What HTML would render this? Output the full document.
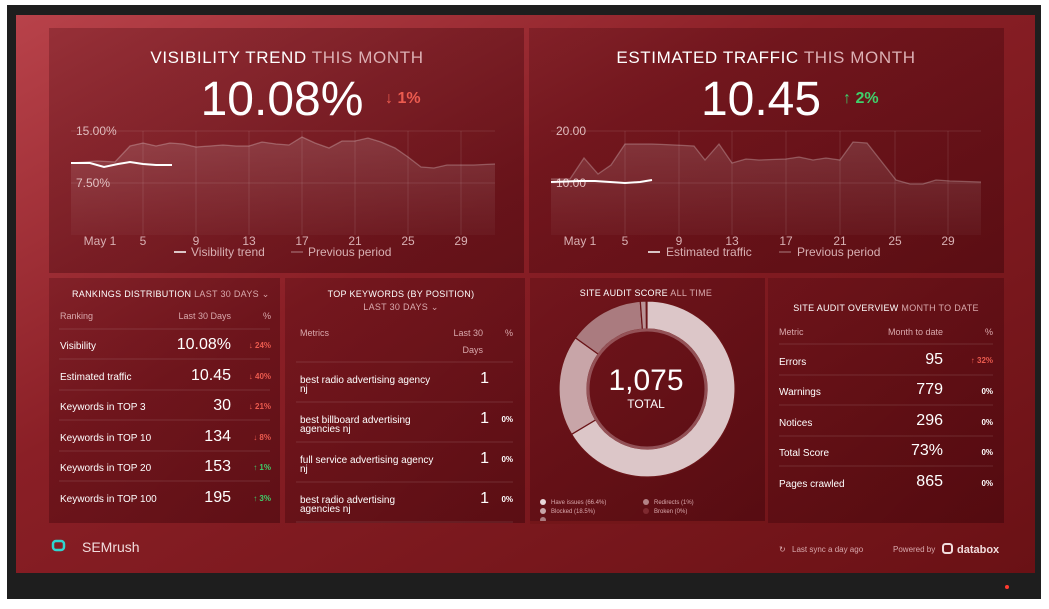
<!DOCTYPE html>
<html><head><meta charset="utf-8"><style>
html,body{margin:0;padding:0;background:#fff;width:1049px;height:609px;overflow:hidden}
svg{display:block}
text{font-family:"Liberation Sans",sans-serif}
</style></head><body>
<svg width="1049" height="609" viewBox="0 0 1049 609" xmlns="http://www.w3.org/2000/svg">
<defs>
<linearGradient id="scr" x1="0" y1="0" x2="1" y2="1">
<stop offset="0" stop-color="#b8424a"/><stop offset="0.4" stop-color="#8a1f26"/><stop offset="1" stop-color="#6a1115"/>
</linearGradient>
<linearGradient id="pan" x1="0" y1="0" x2="1" y2="1">
<stop offset="0" stop-color="#3a0008" stop-opacity="0.25"/><stop offset="1" stop-color="#300006" stop-opacity="0.42"/>
</linearGradient>
<linearGradient id="area" x1="0" y1="0" x2="0" y2="1">
<stop offset="0" stop-color="#fff" stop-opacity="0.13"/><stop offset="1" stop-color="#fff" stop-opacity="0.03"/>
</linearGradient>
</defs>
<rect x="7" y="5" width="1034" height="594" fill="#1e1e1e"/>
<rect x="16" y="15" width="1019" height="558" fill="url(#scr)"/>
<circle cx="1007" cy="587" r="2" fill="#ff3b30"/>
<rect x="49" y="28" width="475" height="245" fill="url(#pan)"/>
<rect x="529" y="28" width="475" height="245" fill="url(#pan)"/>
<rect x="49" y="278" width="231" height="245" fill="url(#pan)"/>
<rect x="285" y="278" width="240" height="245" fill="url(#pan)"/>
<rect x="530" y="278" width="235" height="245" fill="url(#pan)"/>
<rect x="768" y="278" width="236" height="245" fill="url(#pan)"/>

<text x="287" y="63" text-anchor="middle" font-size="17" fill="#fff" letter-spacing="0.6">VISIBILITY TREND <tspan fill="#dcb0b4">THIS MONTH</tspan></text>
<text x="282" y="115" text-anchor="middle" font-size="48" fill="#fff">10.08%</text>
<text x="385" y="103" font-size="16" font-weight="bold" fill="#ec5b4f">↓ 1%</text>
<g stroke="#fff" stroke-opacity="0.1" stroke-width="1">
<line x1="71" y1="131" x2="495" y2="131"/><line x1="71" y1="183" x2="495" y2="183"/>
<line x1="143" y1="131" x2="143" y2="235"/><line x1="196" y1="131" x2="196" y2="235"/><line x1="249" y1="131" x2="249" y2="235"/><line x1="302" y1="131" x2="302" y2="235"/><line x1="355" y1="131" x2="355" y2="235"/><line x1="408" y1="131" x2="408" y2="235"/><line x1="461" y1="131" x2="461" y2="235"/>
</g>
<text x="76" y="135" font-size="12" fill="#e0bcbe">15.00%</text>
<text x="76" y="187" font-size="12" fill="#e0bcbe">7.50%</text>
<path d="M71,163 L97,161 L115,162 L130,146 L143,143 L156,146 L170,143 L183,144 L196,147 L210,146 L223,145 L236,146 L249,146 L262,142 L276,144 L289,145 L302,137 L315,143 L329,148 L342,141 L355,141 L368,138 L381,142 L395,148 L408,157 L421,167 L434,168 L447,165 L461,165 L474,165 L495,164 L495,235 L71,235Z" fill="url(#area)"/>
<polyline points="71,163 97,161 115,162 130,146 143,143 156,146 170,143 183,144 196,147 210,146 223,145 236,146 249,146 262,142 276,144 289,145 302,137 315,143 329,148 342,141 355,141 368,138 381,142 395,148 408,157 421,167 434,168 447,165 461,165 474,165 495,164" fill="none" stroke="#fff" stroke-opacity="0.25" stroke-width="1.3"/>
<polyline points="71,163 90,163 104,167 118,164 130,162 143,164 156,165 172,165" fill="none" stroke="#fff" stroke-width="2"/>
<g font-size="12" fill="#d8b0b3" text-anchor="middle">
<text x="100" y="245">May 1</text><text x="143" y="245">5</text><text x="196" y="245">9</text><text x="249" y="245">13</text><text x="302" y="245">17</text><text x="355" y="245">21</text><text x="408" y="245">25</text><text x="461" y="245">29</text>
</g>
<line x1="174" y1="252" x2="186" y2="252" stroke="#fff" stroke-width="1.5"/>
<text x="191" y="256" font-size="12" fill="#d8b0b3">Visibility trend</text>
<line x1="291" y1="252" x2="303" y2="252" stroke="#fff" stroke-opacity="0.3" stroke-width="1.5"/>
<text x="308" y="256" font-size="12" fill="#d8b0b3">Previous period</text>

<text x="766" y="63" text-anchor="middle" font-size="17" fill="#fff" letter-spacing="0.6">ESTIMATED TRAFFIC <tspan fill="#dcb0b4">THIS MONTH</tspan></text>
<text x="761" y="115" text-anchor="middle" font-size="48" fill="#fff">10.45</text>
<text x="843" y="103" font-size="16" font-weight="bold" fill="#3fd06b">↑ 2%</text>
<g stroke="#fff" stroke-opacity="0.1" stroke-width="1">
<line x1="551" y1="131" x2="981" y2="131"/><line x1="551" y1="183" x2="981" y2="183"/>
<line x1="625" y1="131" x2="625" y2="235"/><line x1="679" y1="131" x2="679" y2="235"/><line x1="732" y1="131" x2="732" y2="235"/><line x1="786" y1="131" x2="786" y2="235"/><line x1="840" y1="131" x2="840" y2="235"/><line x1="895" y1="131" x2="895" y2="235"/><line x1="948" y1="131" x2="948" y2="235"/>
</g>
<text x="556" y="135" font-size="12" fill="#e0bcbe">20.00</text>
<text x="556" y="187" font-size="12" fill="#e0bcbe">10.00</text>
<path d="M551,179 L570,179 L584,158 L598,174 L611,165 L625,144 L652,144 L675,145 L694,146 L705,160 L719,144 L732,163 L746,159 L759,160 L786,159 L799,157 L813,160 L826,158 L840,160 L853,142 L867,143 L896,180 L910,184 L923,184 L936,180 L950,181 L981,182 L981,235 L551,235Z" fill="url(#area)"/>
<polyline points="551,179 570,179 584,158 598,174 611,165 625,144 652,144 675,145 694,146 705,160 719,144 732,163 746,159 759,160 786,159 799,157 813,160 826,158 840,160 853,142 867,143 896,180 910,184 923,184 936,180 950,181 981,182" fill="none" stroke="#fff" stroke-opacity="0.25" stroke-width="1.3"/>
<polyline points="551,182 580,181 595,181 610,182 625,183 640,182 652,180" fill="none" stroke="#fff" stroke-width="2"/>
<g font-size="12" fill="#d8b0b3" text-anchor="middle">
<text x="580" y="245">May 1</text><text x="625" y="245">5</text><text x="679" y="245">9</text><text x="732" y="245">13</text><text x="786" y="245">17</text><text x="840" y="245">21</text><text x="895" y="245">25</text><text x="948" y="245">29</text>
</g>
<line x1="648" y1="252" x2="660" y2="252" stroke="#fff" stroke-width="1.5"/>
<text x="666" y="256" font-size="12" fill="#d8b0b3">Estimated traffic</text>
<line x1="779" y1="252" x2="791" y2="252" stroke="#fff" stroke-opacity="0.3" stroke-width="1.5"/>
<text x="797" y="256" font-size="12" fill="#d8b0b3">Previous period</text>

<text x="72" y="297" font-size="9" fill="#fff" letter-spacing="0.3">RANKINGS DISTRIBUTION <tspan fill="#d9a9ad">LAST 30 DAYS ⌄</tspan></text>
<g font-size="9" fill="#d9a9ad"><text x="60" y="319">Ranking</text><text x="231" y="319" text-anchor="end">Last 30 Days</text><text x="271" y="319" text-anchor="end">%</text></g>
<g stroke="#fff" stroke-opacity="0.12"><line x1="59" y1="329" x2="270" y2="329"/><line x1="59" y1="359" x2="270" y2="359"/><line x1="59" y1="390" x2="270" y2="390"/><line x1="59" y1="420" x2="270" y2="420"/><line x1="59" y1="451" x2="270" y2="451"/><line x1="59" y1="481" x2="270" y2="481"/></g>
<g font-size="10" fill="#fff"><text x="60" y="349">Visibility</text><text x="60" y="380">Estimated traffic</text><text x="60" y="410">Keywords in TOP 3</text><text x="60" y="441">Keywords in TOP 10</text><text x="60" y="471">Keywords in TOP 20</text><text x="60" y="502">Keywords in TOP 100</text></g>
<g font-size="16" fill="#fff" text-anchor="end"><text x="231" y="349">10.08%</text><text x="231" y="380">10.45</text><text x="231" y="410">30</text><text x="231" y="441">134</text><text x="231" y="471">153</text><text x="231" y="502">195</text></g>
<g font-size="8" font-weight="bold" text-anchor="end"><text x="271" y="348" fill="#ec5b4f">↓ 24%</text><text x="271" y="379" fill="#ec5b4f">↓ 40%</text><text x="271" y="409" fill="#ec5b4f">↓ 21%</text><text x="271" y="440" fill="#ec5b4f">↓ 8%</text><text x="271" y="470" fill="#3fd06b">↑ 1%</text><text x="271" y="501" fill="#3fd06b">↑ 3%</text></g>

<text x="401" y="297" text-anchor="middle" font-size="9" fill="#fff" letter-spacing="0.3">TOP KEYWORDS (BY POSITION)</text>
<text x="401" y="310" text-anchor="middle" font-size="9" fill="#d9a9ad" letter-spacing="0.3">LAST 30 DAYS ⌄</text>
<g font-size="9" fill="#d9a9ad"><text x="300" y="336">Metrics</text><text x="483" y="336" text-anchor="end">Last 30</text><text x="483" y="353" text-anchor="end">Days</text><text x="513" y="336" text-anchor="end">%</text></g>
<g stroke="#fff" stroke-opacity="0.12"><line x1="296" y1="362" x2="513" y2="362"/><line x1="296" y1="402" x2="513" y2="402"/><line x1="296" y1="442" x2="513" y2="442"/><line x1="296" y1="482" x2="513" y2="482"/><line x1="296" y1="522" x2="513" y2="522"/></g>
<g font-size="10" fill="#fff"><text x="300" y="383">best radio advertising agency</text><text x="300" y="392">nj</text>
<text x="300" y="423">best billboard advertising</text><text x="300" y="432">agencies nj</text>
<text x="300" y="463">full service advertising agency</text><text x="300" y="472">nj</text>
<text x="300" y="503">best radio advertising</text><text x="300" y="512">agencies nj</text></g>
<g font-size="16" fill="#fff" text-anchor="end"><text x="489" y="383">1</text><text x="489" y="423">1</text><text x="489" y="463">1</text><text x="489" y="503">1</text></g>
<g font-size="8" font-weight="bold" fill="#fff" text-anchor="end"><text x="513" y="422">0%</text><text x="513" y="462">0%</text><text x="513" y="502">0%</text></g>

<text x="646" y="296" text-anchor="middle" font-size="9" fill="#fff" letter-spacing="0.3">SITE AUDIT SCORE <tspan fill="#d9a9ad">ALL TIME</tspan></text>
<g stroke="#6a1418" stroke-width="1.2">
<path d="M647,301 A88,88 0 1 1 571.6,434.3 L595.6,419.9 A60,60 0 1 0 647,329Z" fill="#dcc6c8"/>
<path d="M571.6,434.3 A88,88 0 0 1 575.4,337.8 L598.2,354.1 A60,60 0 0 0 595.6,419.9Z" fill="#c8a5a8"/>
<path d="M575.4,337.8 A88,88 0 0 1 640.3,301.3 L642.4,329.2 A60,60 0 0 0 598.2,354.1Z" fill="#aa7b7f"/>
<path d="M640.3,301.3 A88,88 0 0 1 646.1,301 L646.4,329 A60,60 0 0 0 642.4,329.2Z" fill="#b99396"/>
</g>
<circle cx="647" cy="389" r="59" fill="none" stroke="#c9a0a3" stroke-opacity="0.45" stroke-width="3"/>
<text x="646" y="390" text-anchor="middle" font-size="30" fill="#fff">1,075</text>
<text x="646" y="408" text-anchor="middle" font-size="12" fill="#fff">TOTAL</text>
<g font-size="6" fill="#d9a9ad">
<circle cx="543" cy="502" r="3" fill="#e9d6d8"/><text x="551" y="504">Have issues (66.4%)</text>
<circle cx="543" cy="511" r="3" fill="#c8a5a8"/><text x="551" y="513">Blocked (18.5%)</text>
<circle cx="543" cy="520" r="3" fill="#aa7b7f"/>
<circle cx="646" cy="502" r="3" fill="#b38286"/><text x="654" y="504">Redirects (1%)</text>
<circle cx="646" cy="511" r="3" fill="#7e2a30"/><text x="654" y="513">Broken (0%)</text>
</g>
<rect x="530" y="521" width="235" height="3" fill="#731619"/>

<text x="886" y="311" text-anchor="middle" font-size="9" fill="#fff" letter-spacing="0.3">SITE AUDIT OVERVIEW <tspan fill="#d9a9ad">MONTH TO DATE</tspan></text>
<g font-size="9" fill="#d9a9ad"><text x="779" y="335">Metric</text><text x="943" y="335" text-anchor="end">Month to date</text><text x="993" y="335" text-anchor="end">%</text></g>
<g stroke="#fff" stroke-opacity="0.12"><line x1="779" y1="344" x2="993" y2="344"/><line x1="779" y1="375" x2="993" y2="375"/><line x1="779" y1="405" x2="993" y2="405"/><line x1="779" y1="436" x2="993" y2="436"/><line x1="779" y1="466" x2="993" y2="466"/></g>
<g font-size="10" fill="#fff"><text x="779" y="365">Errors</text><text x="779" y="395">Warnings</text><text x="779" y="426">Notices</text><text x="779" y="456">Total Score</text><text x="779" y="487">Pages crawled</text></g>
<g font-size="16" fill="#fff" text-anchor="end"><text x="943" y="364">95</text><text x="943" y="394">779</text><text x="943" y="425">296</text><text x="943" y="455">73%</text><text x="943" y="486">865</text></g>
<g font-size="8" font-weight="bold" text-anchor="end"><text x="993" y="363" fill="#ec5b4f">↑ 32%</text><text x="993" y="394" fill="#fff">0%</text><text x="993" y="425" fill="#fff">0%</text><text x="993" y="455" fill="#fff">0%</text><text x="993" y="486" fill="#fff">0%</text></g>

<rect x="53" y="541" width="11" height="9" rx="3" fill="none" stroke="#2fd5d0" stroke-width="2.5"/>
<text x="82" y="552" font-size="14" fill="#f1dcdd">SEMrush</text>
<text x="779" y="552" font-size="8" fill="#d9a9ad">↻</text>
<text x="792" y="552" font-size="8" fill="#d9a9ad">Last sync a day ago</text>
<text x="893" y="552" font-size="8" fill="#d9a9ad">Powered by</text>
<rect x="943" y="544" width="9" height="9" rx="2.5" fill="none" stroke="#f1dcdd" stroke-width="2"/>
<text x="957" y="553" font-size="11" font-weight="bold" fill="#f1dcdd">databox</text>
</svg>
</body></html>
